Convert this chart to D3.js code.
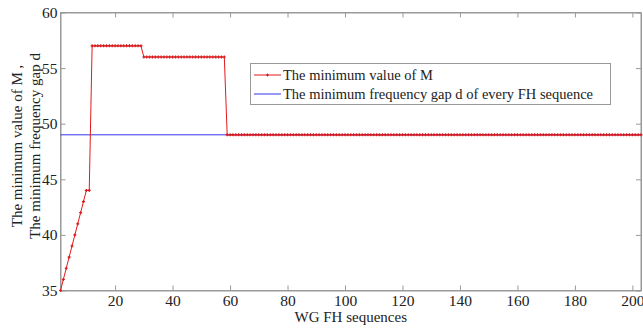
<html lang="en">
<head>
  <meta charset="UTF-8"/>
  <title>WG FH sequences</title>
  <script src="https://d3js.org/d3.v7.min.js"></script>
</head>
<style>
body {
  margin: 0;
  background: #fff;
}

svg {
  display: block;
}

svg text {
  fill: #222;
  font-family: 'Liberation Serif', 'Times New Roman', serif;
  font-size: 14.5px;
}

svg .axis text {
  font-size: 15.5px;
}

.axis path, .axis line {
  stroke: #999;
}

.box {
  fill: none;
  stroke: #999;
}

.legend rect {
  fill: #fff;
  stroke: #999;
}
</style>
<body>
<svg width="643" height="329"></svg>
<script>
    // minimum value of M for every WG FH sequence (index 1..203)
    const minM = [
      35, 36, 37, 38, 39, 40, 41, 42, 43, 44, 44,
      57, 57, 57, 57, 57, 57, 57, 57, 57, 57, 57, 57, 57, 57, 57, 57, 57, 57,
      56, 56, 56, 56, 56, 56, 56, 56, 56, 56, 56, 56, 56, 56, 56, 56, 56, 56, 56, 56,
      56, 56, 56, 56, 56, 56, 56, 56, 56,
      49, 49, 49, 49, 49, 49, 49, 49, 49, 49, 49, 49, 49, 49, 49, 49, 49, 49, 49, 49,
      49, 49, 49, 49, 49, 49, 49, 49, 49, 49, 49, 49, 49, 49, 49, 49, 49, 49, 49, 49,
      49, 49, 49, 49, 49, 49, 49, 49, 49, 49, 49, 49, 49, 49, 49, 49, 49, 49, 49, 49,
      49, 49, 49, 49, 49, 49, 49, 49, 49, 49, 49, 49, 49, 49, 49, 49, 49, 49, 49, 49,
      49, 49, 49, 49, 49, 49, 49, 49, 49, 49, 49, 49, 49, 49, 49, 49, 49, 49, 49, 49,
      49, 49, 49, 49, 49, 49, 49, 49, 49, 49, 49, 49, 49, 49, 49, 49, 49, 49, 49, 49,
      49, 49, 49, 49, 49, 49, 49, 49, 49, 49, 49, 49, 49, 49, 49, 49, 49, 49, 49, 49,
      49, 49, 49, 49, 49
    ];
    // minimum frequency gap d (same for every sequence)
    const gapD = 49;

    const xTicks = [20, 40, 60, 80, 100, 120, 140, 160, 180, 200];
    const yTicks = [35, 40, 45, 50, 55, 60];
    const legendLabels = ['The minimum value of M', 'The minimum frequency gap d of every FH sequence'];

    const svg = d3.select('svg');

    const mLeft = 60.5, mRight = 641, mTop = 12.5, mBottom = 290.5;

    const xScale = d3.scaleLinear()
      .domain([1, 203])
      .range([mLeft, mRight]);

    const yScale = d3.scaleLinear()
      .domain([35, 60])
      .range([mBottom, mTop]);

    const data = minM.map((v, i) => ({ x: i + 1, y: v }));

    // axes with inward ticks (matlab style)
    svg.append('g')
      .attr('class', 'axis')
      .attr('transform', `translate(0, ${mBottom})`)
      .call(d3.axisBottom(xScale).tickValues(xTicks).tickSize(-5).tickPadding(4).tickSizeOuter(0));

    svg.append('g')
      .attr('class', 'axis')
      .attr('transform', `translate(0, ${mTop})`)
      .call(d3.axisTop(xScale).tickValues(xTicks).tickSize(-5).tickFormat('').tickSizeOuter(0));

    svg.append('g')
      .attr('class', 'axis')
      .attr('transform', `translate(${mLeft}, 0)`)
      .call(d3.axisLeft(yScale).tickValues(yTicks).tickSize(-5).tickPadding(3).tickSizeOuter(0));

    svg.append('g')
      .attr('class', 'axis')
      .attr('transform', `translate(${mRight}, 0)`)
      .call(d3.axisRight(yScale).tickValues(yTicks).tickSize(-5).tickFormat('').tickSizeOuter(0));

    svg.append('rect')
      .attr('class', 'box')
      .attr('x', mLeft)
      .attr('y', mTop)
      .attr('width', mRight - mLeft)
      .attr('height', mBottom - mTop);

    // blue: minimum gap d
    svg.append('line')
      .attr('x1', xScale(1))
      .attr('x2', xScale(203))
      .attr('y1', yScale(gapD))
      .attr('y2', yScale(gapD))
      .attr('stroke', '#3333ee')
      .attr('stroke-width', 1);

    // red: minimum M
    const line = d3.line()
      .x(d => xScale(d.x))
      .y(d => yScale(d.y));

    svg.append('path')
      .datum(data)
      .attr('fill', 'none')
      .attr('stroke', '#e41a1c')
      .attr('stroke-width', 1)
      .attr('d', line);

    svg.append('g')
      .selectAll('path')
      .data(data)
      .enter()
      .append('path')
      .attr('transform', d => `translate(${xScale(d.x)}, ${yScale(d.y)})`)
      .attr('d', 'M-1.5,0H1.5M0,-1.5V1.5')
      .attr('stroke', '#d7191c')
      .attr('stroke-width', 1.2);

    // legend
    const legend = svg.append('g').attr('class', 'legend');
    legend.append('rect')
      .attr('x', 250.5)
      .attr('y', 63.5)
      .attr('width', 360)
      .attr('height', 41);

    const entries = legend.selectAll('g.entry')
      .data(legendLabels)
      .enter()
      .append('g')
      .attr('class', 'entry')
      .attr('transform', (d, i) => `translate(254, ${75 + i * 19})`);

    entries.append('line')
      .attr('x1', 0)
      .attr('x2', 27)
      .attr('stroke', (d, i) => i === 0 ? '#e41a1c' : '#3333ee');

    entries.filter((d, i) => i === 0)
      .append('path')
      .attr('d', 'M12,0H15M13.5,-1.5V1.5')
      .attr('stroke', '#d7191c');

    entries.append('text')
      .attr('x', 29)
      .attr('dy', '0.35em')
      .text(d => d);

    // axis labels
    svg.append('text')
      .attr('x', (mLeft + mRight) / 2)
      .attr('y', 322)
      .attr('text-anchor', 'middle')
      .style('font-size', '15px')
      .text('WG FH sequences');

    const yLab = svg.append('text')
      .attr('transform', `translate(22, 146) rotate(-90)`)
      .attr('text-anchor', 'middle')
      .style('font-size', '15px');
    yLab.append('tspan').attr('x', 0).attr('dy', 0).text('The minimum value of M ,');
    yLab.append('tspan').attr('x', 0).attr('dy', 17.5).text('The minimum frequency gap d');
</script>
</body>
</html>
